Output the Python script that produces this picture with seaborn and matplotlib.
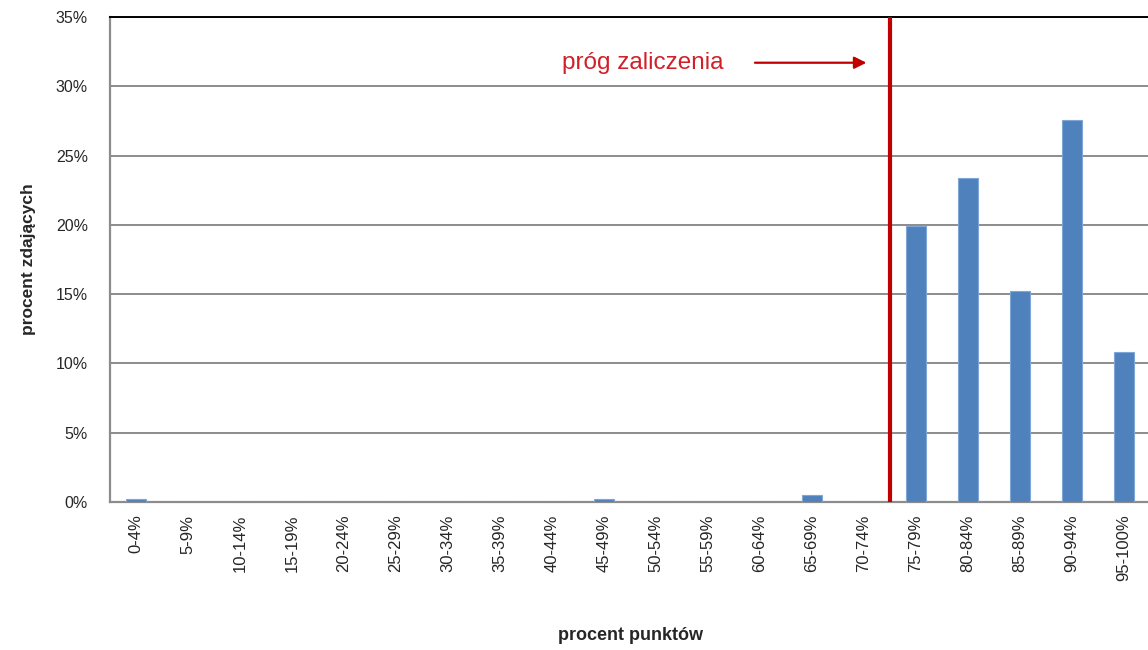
import numpy as np
import pandas as pd
import matplotlib
matplotlib.use('Agg')
import matplotlib.pyplot as plt
import seaborn as sns

# Dane
przedzialy = ['0-4%', '5-9%', '10-14%', '15-19%', '20-24%', '25-29%', '30-34%',
              '35-39%', '40-44%', '45-49%', '50-54%', '55-59%', '60-64%', '65-69%',
              '70-74%', '75-79%', '80-84%', '85-89%', '90-94%', '95-100%']
procent_zdajacych = [0.2, 0, 0, 0, 0, 0, 0, 0, 0, 0.2, 0, 0, 0, 0.5,
                     0, 19.9, 23.4, 15.2, 27.6, 10.8]
prog_indeks = 14.5  # granica między 70-74% a 75-79%
y_ticks = [0, 5, 10, 15, 20, 25, 30, 35]

df = pd.DataFrame({'przedzial': przedzialy, 'procent': procent_zdajacych})

sns.set_style('white')
plt.rcParams['font.family'] = ['Liberation Sans', 'DejaVu Sans']

fig = plt.figure(figsize=(11.48, 6.5), dpi=100)
ax = fig.add_axes([110 / 1148, 148 / 650, 1040 / 1148, 485 / 650])

sns.barplot(x='przedzial', y='procent', data=df, color='#4F81BD', width=0.4,
            saturation=1, edgecolor='#7FA6D6', linewidth=0.8, ax=ax, zorder=3)

# Siatka i osie
ax.set_ylim(0, 35)
ax.set_xlim(-0.5, len(przedzialy) - 0.5)
ax.set_yticks(y_ticks)
ax.set_yticklabels([f'{t}%' for t in y_ticks], fontsize=11.5)
ax.yaxis.grid(True, color='#8C8C8C', linewidth=1.4, zorder=0)
ax.set_axisbelow(True)

ax.set_xticks(range(len(przedzialy)))
ax.set_xticklabels(przedzialy, rotation=90, fontsize=12)
ax.tick_params(axis='x', which='major', length=0, pad=9)
ax.set_xticks(np.arange(-0.5, len(przedzialy), 1), minor=True)
ax.tick_params(axis='x', which='minor', length=6, width=1.4, color='#8C8C8C', direction='out')
ax.tick_params(axis='y', length=6, width=1.4, color='#8C8C8C', direction='out', pad=10)

for side in ['left', 'bottom']:
    ax.spines[side].set_color('#8C8C8C')
    ax.spines[side].set_linewidth(1.6)
ax.spines['top'].set_color('black')
ax.spines['top'].set_linewidth(1.4)
ax.spines['right'].set_visible(False)

# Próg zaliczenia
ax.axvline(prog_indeks, color='#C00000', linewidth=3, zorder=4)
ax.annotate('', xy=(14.1, 31.7), xytext=(11.85, 31.7),
            arrowprops=dict(arrowstyle='-|>', color='#C00000', lw=1.6, mutation_scale=18))
ax.text(11.3, 31.7, 'próg zaliczenia', color='#D0202A', fontsize=17.5, ha='right', va='center')

ax.set_xlabel('procent punktów', fontsize=13, fontweight='bold', labelpad=33)
ax.set_ylabel('procent zdających', fontsize=12.5, fontweight='bold', labelpad=14)

plt.savefig('out.png', dpi=100)
